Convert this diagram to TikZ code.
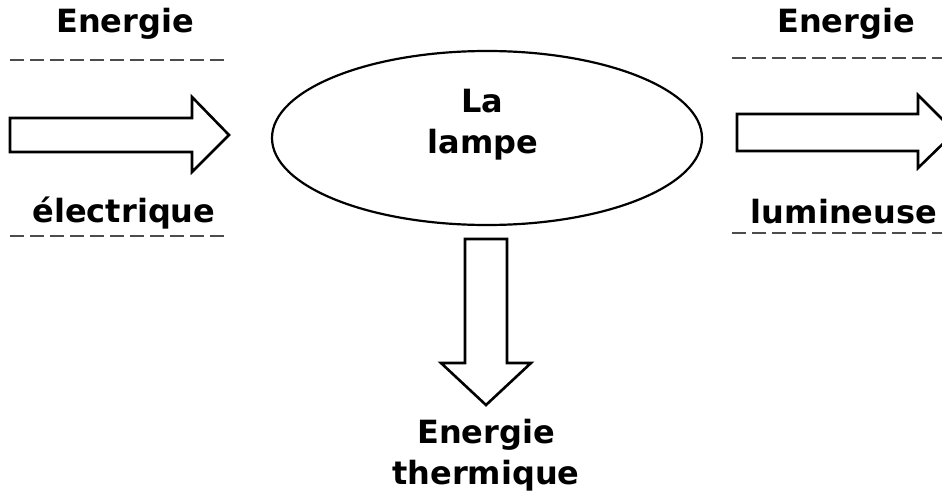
\documentclass[tikz,border=0pt]{standalone}
\usepackage{fontspec}
\setmainfont{DejaVu Sans}
\usepackage{tikz}
\usetikzlibrary{shapes.geometric}

\tikzset{
  lbl/.style={font=\bfseries\fontsize{32}{38}\selectfont, inner sep=0pt, anchor=base},
  bigarrow/.style={draw, line width=2.6pt, fill=white, line join=miter},
  sepline/.style={draw=black!70, line width=1.4pt, dash pattern=on 14pt off 6pt},
}

\begin{document}
\begin{tikzpicture}[x=1pt, y=-1pt]
            \useasboundingbox (0,0) rectangle (942,495);

            % the lamp
            \node[ellipse, draw, line width=2.2pt, minimum width=430pt, minimum height=174pt] (lamp) at (487,138) {};
            \node[lbl] (la) at (482,112) {La};
            \node[lbl] (lampe) at (483,153) {lampe};

            % incoming energy
            \node[lbl] (ein) at (125,33) {Energie};
            \node[lbl] (elec) at (124,222) {électrique};
            \coordinate (s1a) at (10,60);   \coordinate (s1b) at (229,60);
            \coordinate (s2a) at (10,236);  \coordinate (s2b) at (229,236);
            \draw[sepline] (s1a) -- (s1b);
            \draw[sepline] (s2a) -- (s2b);
            \draw[bigarrow] (10,118) -- (192,118) -- (192,97) -- (229,135)
                -- (192,172) -- (192,152) -- (10,152) -- cycle;

            % outgoing light
            \node[lbl] (eout) at (846,33) {Energie};
            \node[lbl] (lum) at (844,223) {lumineuse};
            \coordinate (s3a) at (732,58);   \coordinate (s3b) at (942,58);
            \coordinate (s4a) at (732,233);  \coordinate (s4b) at (942,233);
            \draw[sepline] (s3a) -- (s3b);
            \draw[sepline] (s4a) -- (s4b);
            \draw[bigarrow] (737,114) -- (918,114) -- (918,95) -- (955,132)
                -- (918,168) -- (918,151) -- (737,151) -- cycle;

            % heat
            \draw[bigarrow] (465,239) -- (507,239) -- (507,363) -- (531,363)
                -- (486,405) -- (441,363) -- (465,363) -- cycle;
            \node[lbl] (eth) at (486,443) {Energie};
            \node[lbl] (therm) at (486,484) {thermique};
        \end{tikzpicture}
\end{document}
